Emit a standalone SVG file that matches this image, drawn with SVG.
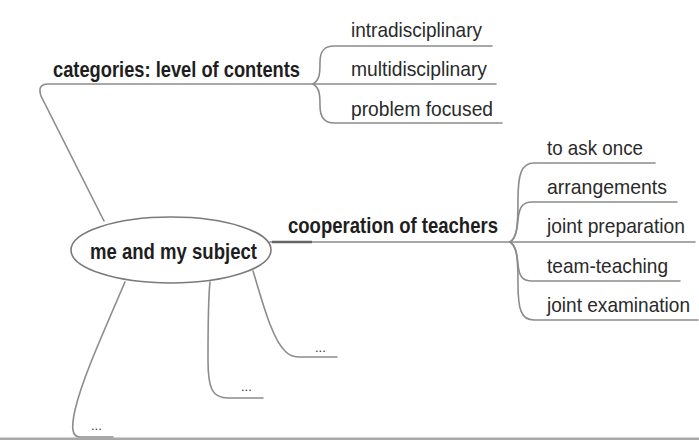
<svg xmlns="http://www.w3.org/2000/svg" width="699" height="440" viewBox="0 0 699 440">
<style>
.bg{fill:#ffffff}
.c{fill:none;stroke:#8c8c8c;stroke-width:1.6;stroke-linecap:round}
.thick{fill:none;stroke:#666;stroke-width:2.6}
.b{font-family:"Liberation Sans",Arial,sans-serif;font-weight:bold;font-size:22px;fill:#1e1e1e}
.r{font-family:"Liberation Sans",Arial,sans-serif;font-size:21px;fill:#2a2a2a}
.d{font-family:"Liberation Sans",Arial,sans-serif;font-size:13px;fill:#333}
.ell{fill:#fff;stroke:#7a7a7a;stroke-width:1.6}
</style>
<rect class="bg" x="0" y="0" width="699" height="440"/>
<g id="connectors">
<path class="c" d="M104,221 L41,96 Q37,84 48,84 H313"/>
<path class="c" d="M313,84 C320,80 320,72 320,62 C320,51 324,46 334,46 H492"/>
<path class="c" d="M313,84 H496"/>
<path class="c" d="M313,84 C320,88 320,96 320,106 C320,117 324,123 334,123 H502"/>
<path class="c" d="M270,242 H510"/>
<path class="thick" d="M272,242 H312"/>
<path class="c" d="M510,242 C517,238 518,225 518,200 C518,175 521,163 534,163 H655"/>
<path class="c" d="M510,242 C516,238 517,230 518,220 C519,208 522,202 532,202 H677"/>
<path class="c" d="M510,242 H695"/>
<path class="c" d="M510,242 C516,246 517,254 518,264 C519,276 522,281 532,281 H680"/>
<path class="c" d="M510,242 C517,246 518,259 518,284 C518,309 521,320 534,320 H698"/>
<path class="c" d="M253,271 C262,300 272,340 286,352 C290,356 294,357 300,357 H337"/>
<path class="c" d="M210,282 C208,300 208,320 208,360 C208,388 212,398 228,398 H263"/>
<path class="c" d="M125,282 C100,340 82,380 75,410 C71,428 72,437 80,437 H113"/>
</g>
<g id="center">
<ellipse class="ell" cx="171" cy="250" rx="100" ry="33"/>
<text class="b" x="90" y="259" textLength="167" lengthAdjust="spacingAndGlyphs">me and my subject</text>
</g>
<g id="categories">
<text class="b" x="53" y="77" textLength="247" lengthAdjust="spacingAndGlyphs">categories: level of contents</text>
</g>
<g id="intradisciplinary">
<text class="r" x="351" y="37" textLength="131" lengthAdjust="spacingAndGlyphs">intradisciplinary</text>
</g>
<g id="multidisciplinary">
<text class="r" x="351" y="76" textLength="136" lengthAdjust="spacingAndGlyphs">multidisciplinary</text>
</g>
<g id="problem-focused">
<text class="r" x="351" y="116" textLength="142" lengthAdjust="spacingAndGlyphs">problem focused</text>
</g>
<g id="cooperation">
<text class="b" x="288" y="233" textLength="210" lengthAdjust="spacingAndGlyphs">cooperation of teachers</text>
</g>
<g id="to-ask-once">
<text class="r" x="547" y="155" textLength="96" lengthAdjust="spacingAndGlyphs">to ask once</text>
</g>
<g id="arrangements">
<text class="r" x="547" y="194" textLength="120" lengthAdjust="spacingAndGlyphs">arrangements</text>
</g>
<g id="joint-preparation">
<text class="r" x="547" y="233" textLength="138" lengthAdjust="spacingAndGlyphs">joint preparation</text>
</g>
<g id="team-teaching">
<text class="r" x="547" y="273" textLength="121" lengthAdjust="spacingAndGlyphs">team-teaching</text>
</g>
<g id="joint-examination">
<text class="r" x="547" y="312" textLength="143" lengthAdjust="spacingAndGlyphs">joint examination</text>
</g>
<g id="dots-1">
<text class="d" x="315" y="352">...</text>
</g>
<g id="dots-2">
<text class="d" x="241" y="391">...</text>
</g>
<g id="dots-3">
<text class="d" x="91" y="430">...</text>
</g>
<rect x="0" y="437.5" width="699" height="2.5" fill="#a8a8a8"/>
</svg>
